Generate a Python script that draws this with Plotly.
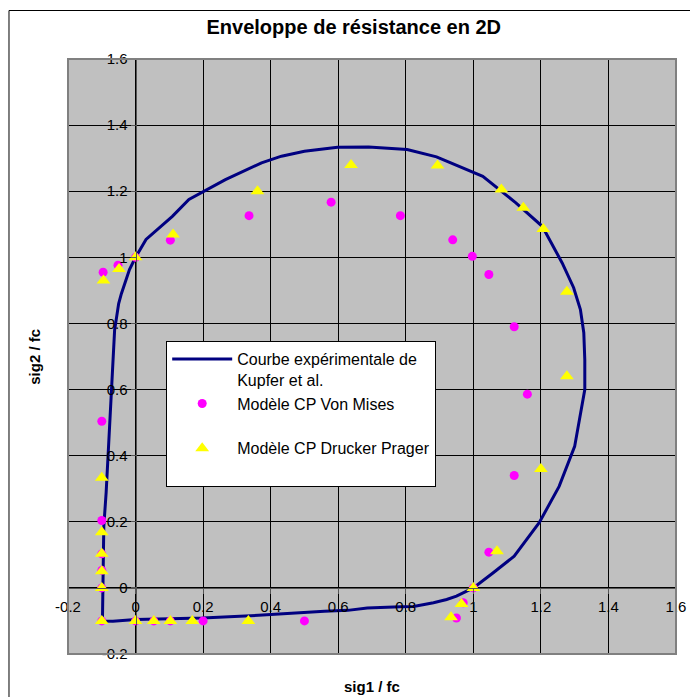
import plotly.graph_objects as go

# Kupfer et al. experimental envelope
kupfer_x = [-0.098, -0.097, -0.094, -0.087, -0.079, -0.072, -0.067, -0.062, -0.050, -0.042, -0.018, 0.0,
            0.031, 0.109, 0.158, 0.202, 0.266, 0.373, 0.432, 0.5, 0.598, 0.69, 0.745, 0.804, 0.891,
            1.028, 1.126, 1.204, 1.263, 1.297, 1.317, 1.327, 1.33, 1.33, 1.30, 1.254, 1.195, 1.121,
            1.058, 1.0, 0.95, 0.921, 0.882, 0.823, 0.784, 0.686, 0.628, 0.559, 0.364, 0.198, 0.0,
            -0.067, -0.098]
kupfer_y = [-0.1, 0.0, 0.186, 0.29, 0.44, 0.61, 0.70, 0.78, 0.86, 0.89, 0.963, 1.0,
            1.054, 1.124, 1.175, 1.2, 1.235, 1.286, 1.306, 1.321, 1.333, 1.334, 1.331, 1.326, 1.304,
            1.245, 1.165, 1.094, 0.983, 0.908, 0.842, 0.772, 0.69, 0.6, 0.428, 0.307, 0.197, 0.096,
            0.045, 0.0, -0.025, -0.035, -0.045, -0.056, -0.057, -0.061, -0.068, -0.071, -0.083, -0.091, -0.096,
            -0.101, -0.1]

# Von Mises plane-stress model
vm_x = [-0.1, -0.1, -0.1, -0.1, -0.1, -0.1, -0.096, -0.052, 0.0, 0.103, 0.336, 0.579, 0.784, 0.939,
        0.997, 1.046, 1.121, 1.16, 1.121, 1.046, 1.0, 0.97, 0.95, 0.5, 0.2, 0.103, 0.054, 0.0]
vm_y = [-0.1, 0.0, 0.053, 0.103, 0.204, 0.504, 0.955, 0.976, 1.0, 1.052, 1.126, 1.167, 1.126, 1.053,
        1.003, 0.948, 0.79, 0.586, 0.34, 0.108, 0.0, -0.045, -0.091, -0.1, -0.1, -0.1, -0.1, -0.1]

# Drucker-Prager plane-stress model
dp_x = [-0.1, -0.1, -0.1, -0.1, -0.1, -0.1, -0.095, -0.049, 0.0, 0.111, 0.361, 0.638, 0.894, 1.083,
        1.148, 1.207, 1.277, 1.277, 1.2, 1.07, 1.0, 0.965, 0.934, 0.334, 0.168, 0.103, 0.054, 0.0]
dp_y = [-0.1, 0.0, 0.05, 0.103, 0.168, 0.333, 0.93, 0.965, 1.0, 1.069, 1.2, 1.279, 1.278, 1.205,
        1.15, 1.086, 0.896, 0.64, 0.36, 0.111, 0.0, -0.049, -0.089, -0.1, -0.1, -0.1, -0.1, -0.1]

tick_vals = [-0.2, 0, 0.2, 0.4, 0.6, 0.8, 1, 1.2, 1.4, 1.6]
tick_text = ["-0.2", "0", "0.2", "0.4", "0.6", "0.8", "1", "1.2", "1.4", "1.6"]

FONT = "Liberation Sans, Arial, sans-serif"

# plot area geometry (px, relative to figure)
L, T, W, H, R, B = 60, 51, 613, 595, 17, 43

fig = go.Figure()
fig.add_trace(go.Scatter(x=kupfer_x, y=kupfer_y, mode="lines",
                         line=dict(color="#000080", width=3),
                         name="Courbe expérimentale de<br>Kupfer et al."))
fig.add_trace(go.Scatter(x=vm_x, y=vm_y, mode="markers",
                         marker=dict(color="#FF00FF", size=9, symbol="circle"),
                         name="Modèle CP Von Mises<br> "))
fig.add_trace(go.Scatter(x=dp_x, y=dp_y, mode="markers",
                         marker=dict(color="#FFFF00", size=12, symbol="triangle-up"),
                         name="Modèle CP Drucker Prager<br> "))

axis_common = dict(range=[-0.2, 1.6], tickvals=tick_vals, ticktext=tick_text,
                   showgrid=True, gridcolor="#000000", gridwidth=1,
                   zeroline=False, showline=True, linecolor="#555555", linewidth=1,
                   ticks="outside", ticklen=5, tickcolor="#555555",
                   tickfont=dict(family=FONT, size=15, color="#000000"),
                   anchor="free", position=1/9)

fig.update_layout(
    width=L + W + R, height=T + H + B,
    margin=dict(l=L, r=R, t=T, b=B),
    paper_bgcolor="white", plot_bgcolor="#C0C0C0",
    xaxis=dict(axis_common, domain=[0, 1]),
    yaxis=dict(axis_common, domain=[0, 1]),
    title=dict(text="<b>Enveloppe de résistance en 2D</b>", xref="paper", x=0.47, xanchor="center",
               y=1 - 19 / (T + H + B), yanchor="middle", font=dict(family=FONT, size=20, color="#000000")),
    showlegend=True,
    legend=dict(x=0.1615, y=0.526, xanchor="left", yanchor="top",
                bgcolor="white", bordercolor="#000000", borderwidth=1,
                font=dict(family=FONT, size=16, color="#000000"),
                valign="top", itemwidth=60, traceorder="normal"),
    shapes=[
        dict(type="rect", xref="paper", yref="paper", x0=0, x1=1, y0=0, y1=1,
             line=dict(color="#808080", width=2), layer="above"),
        dict(type="rect", xref="paper", yref="paper", x0=(0.5 - L) / W, x1=(700 - L) / W,
             y0=(T + H - 700) / H, y1=(T + H - 2.5) / H, line=dict(color="#000000", width=1)),
    ],
    annotations=[
        dict(text="<b>sig1 / fc</b>", xref="paper", yref="paper", x=0.5, y=(T + H - 678) / H,
             showarrow=False, xanchor="center", yanchor="middle",
             font=dict(family=FONT, size=15, color="#000000")),
        dict(text="<b>sig2 / fc</b>", xref="paper", yref="paper", x=(26 - L) / W, y=0.5,
             showarrow=False, xanchor="center", yanchor="middle", textangle=-90,
             font=dict(family=FONT, size=15, color="#000000")),
    ],
)

fig.write_html("out.html")
